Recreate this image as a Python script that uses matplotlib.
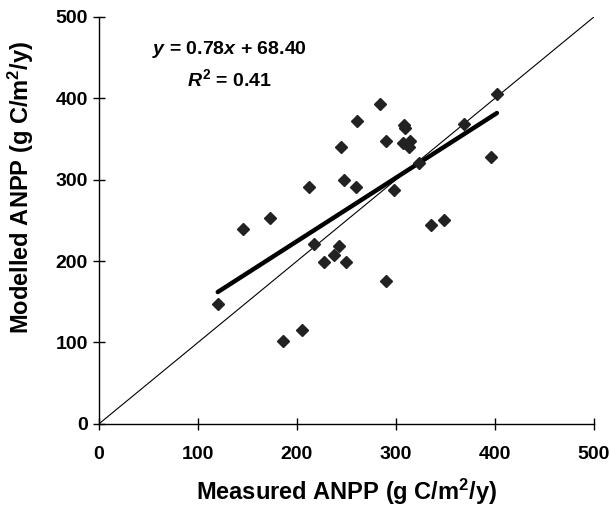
import numpy as np
import matplotlib
matplotlib.use("Agg")
import matplotlib.pyplot as plt

# measured vs modelled ANPP (g C/m2/y)
measured = [120, 146, 173, 186, 205, 212, 217, 227, 237, 242, 245, 248, 250,
            260, 261, 284, 290, 290, 298, 307, 308, 309, 314, 313, 323, 335,
            349, 369, 396, 402]
modelled = [147, 240, 253, 102, 115, 291, 221, 199, 208, 218, 340, 300, 199,
            291, 372, 393, 176, 347, 287, 345, 367, 364, 348, 340, 320, 244,
            251, 368, 328, 405]

slope, intercept = 0.78, 68.40
ticks = [0, 100, 200, 300, 400, 500]

plt.rcParams['font.family'] = ['Liberation Sans', 'DejaVu Sans']
plt.rcParams['font.weight'] = 'bold'
plt.rcParams['mathtext.fontset'] = 'custom'
plt.rcParams['mathtext.rm'] = 'Liberation Sans:bold'
plt.rcParams['mathtext.it'] = 'Liberation Sans:italic:bold'
plt.rcParams['mathtext.bf'] = 'Liberation Sans:bold'

fig = plt.figure(figsize=(6.11, 5.15), dpi=100)
ax = fig.add_axes([0.162, 0.177, 0.81, 0.79])

# 1:1 line
ax.plot([0, 500], [0, 500], color='black', lw=0.8, zorder=1)

# fitted line over the data range
fit_x = np.array([min(measured), max(measured)])
ax.plot(fit_x, slope * fit_x + intercept, color='black', lw=3.2,
        solid_capstyle='round', zorder=2)

ax.plot(measured, modelled, linestyle='none', marker='D', markersize=6.2,
        color='#222222', zorder=3)

ax.text(132, 460, r'$\it{y}$ = 0.78$\it{x}$ + 68.40', ha='center',
        va='center', fontsize=14, fontweight='bold')
ax.text(132, 423, r'$\it{R}^\mathrm{2}$ = 0.41', ha='center', va='center',
        fontsize=14, fontweight='bold')

ax.set_xlim(0, 500)
ax.set_ylim(0, 500)
ax.set_xticks(ticks)
ax.set_yticks(ticks)
ax.tick_params(direction='inout', length=8, width=1, labelsize=14)
ax.tick_params(axis='x', pad=12)
ax.tick_params(axis='y', pad=4)
for s in ['top', 'right']:
    ax.spines[s].set_visible(False)
for s in ['left', 'bottom']:
    ax.spines[s].set_linewidth(1)

ax.set_xlabel(r'Measured ANPP (g C/m$^\mathrm{2}$/y)', fontsize=17,
              fontweight='bold', labelpad=10)
ax.set_ylabel(r'Modelled ANPP (g C/m$^\mathrm{2}$/y)', fontsize=17,
              fontweight='bold')
ax.yaxis.set_label_coords(-0.128, 0.58)

fig.savefig('out.png', dpi=100)
